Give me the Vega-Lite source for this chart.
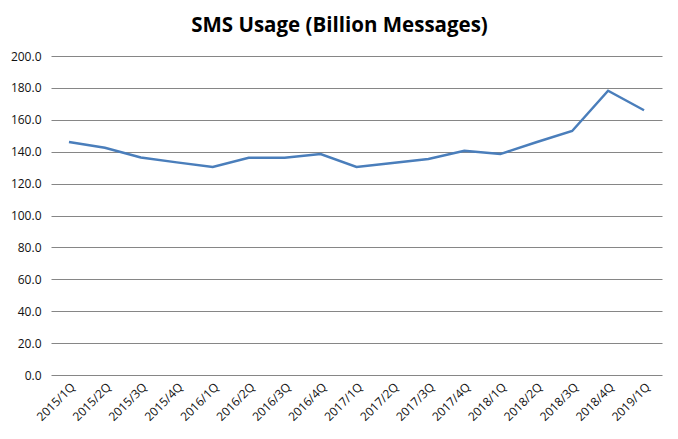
{
  "$schema": "https://vega.github.io/schema/vega-lite/v6.json",
  "autosize": "none",
  "width": 611,
  "height": 319,
  "padding": {"left": 51, "top": 56, "right": 16, "bottom": 64},
  "background": "white",
  "title": {
    "text": "SMS Usage (Billion Messages)",
    "font": "Open Sans",
    "fontSize": 20.5,
    "fontWeight": "bold",
    "color": "black",
    "anchor": "middle",
    "dx": -17,
    "offset": 14
  },
  "config": {
    "view": {"stroke": null},
    "axis": {
      "labelFont": "Open Sans",
      "labelFontSize": 12,
      "labelColor": "#111111",
      "domain": false,
      "ticks": false,
      "title": null
    }
  },
  "data": {
    "values": [
      {"quarter": "2015/1Q", "sms": 146.1},
      {"quarter": "2015/2Q", "sms": 142.5},
      {"quarter": "2015/3Q", "sms": 136.4},
      {"quarter": "2015/4Q", "sms": 133.3},
      {"quarter": "2016/1Q", "sms": 130.4},
      {"quarter": "2016/2Q", "sms": 136.2},
      {"quarter": "2016/3Q", "sms": 136.2},
      {"quarter": "2016/4Q", "sms": 138.5},
      {"quarter": "2017/1Q", "sms": 130.4},
      {"quarter": "2017/2Q", "sms": 132.9},
      {"quarter": "2017/3Q", "sms": 135.4},
      {"quarter": "2017/4Q", "sms": 140.6},
      {"quarter": "2018/1Q", "sms": 138.5},
      {"quarter": "2018/2Q", "sms": 145.9},
      {"quarter": "2018/3Q", "sms": 153.0},
      {"quarter": "2018/4Q", "sms": 178.2},
      {"quarter": "2019/1Q", "sms": 166.0}
    ]
  },
  "mark": {"type": "line", "color": "#4A7EBB", "strokeWidth": 2.5},
  "encoding": {
    "x": {
      "field": "quarter",
      "type": "ordinal",
      "sort": null,
      "scale": {"type": "point", "padding": 0.5},
      "axis": {"labelAngle": -45, "grid": false, "labelPadding": 6}
    },
    "y": {
      "field": "sms",
      "type": "quantitative",
      "scale": {"domain": [0, 200], "nice": false},
      "axis": {
        "values": [0, 20, 40, 60, 80, 100, 120, 140, 160, 180, 200],
        "format": ".1f",
        "grid": true,
        "gridColor": "#868686",
        "gridWidth": 1,
        "labelPadding": 10
      }
    }
  }
}
